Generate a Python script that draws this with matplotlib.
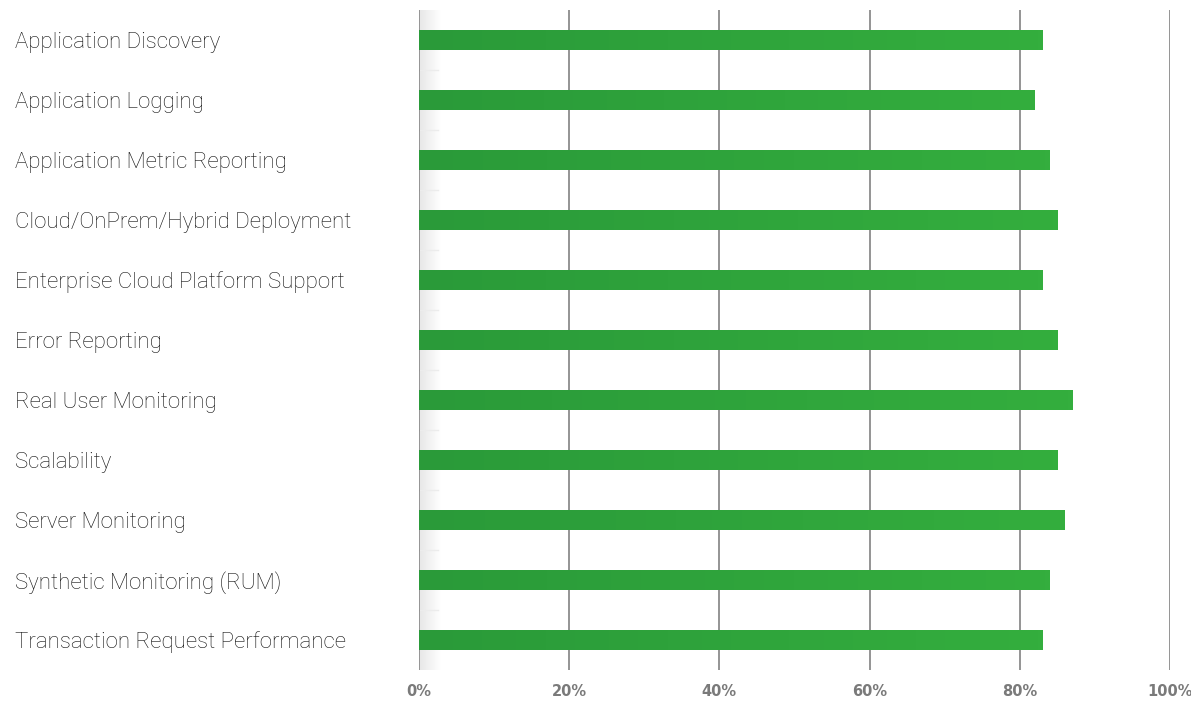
import numpy as np
import matplotlib.pyplot as plt
from matplotlib.colors import LinearSegmentedColormap

categories = ['Application Discovery', 'Application Logging', 'Application Metric Reporting',
              'Cloud/OnPrem/Hybrid Deployment', 'Enterprise Cloud Platform Support', 'Error Reporting',
              'Real User Monitoring', 'Scalability', 'Server Monitoring', 'Synthetic Monitoring (RUM)',
              'Transaction Request Performance']
values = [83, 82, 84, 85, 83, 85, 87, 85, 86, 84, 83]
ticks = [0, 20, 40, 60, 80, 100]
tick_labels = ['0%', '20%', '40%', '60%', '80%', '100%']

fig = plt.figure(figsize=(11.91, 7.02), dpi=100)
ax = fig.add_axes([419 / 1191, 1 - 670 / 702, 751 / 1191, 660 / 702])

ypos = np.arange(len(categories))

# gridlines
for t in ticks:
    ax.axvline(t, color='#777777', lw=1.1, zorder=1)

# faint shadow at the left edge
shade = LinearSegmentedColormap.from_list('shade', ['#e8e8e8', '#ffffff'])
ax.imshow(np.linspace(0, 1, 64).reshape(1, -1), cmap=shade, aspect='auto',
          extent=[0.1, 2.8, len(categories) - 0.5, -0.5], zorder=0.5)
for y in ypos[:-1]:
    ax.plot([0, 2.5], [y + 0.5, y + 0.5], color='#ececec', lw=1, zorder=0.6)

# bars with a left-to-right green gradient
green = LinearSegmentedColormap.from_list('green', ['#2a9a39', '#34ae3e'])
bars = ax.barh(ypos, values, height=0.32, color='#2fa43b', zorder=2)
for bar, v in zip(bars, values):
    im = ax.imshow(np.linspace(0, 1, 128).reshape(1, -1), cmap=green, aspect='auto',
                   extent=[0, v, bar.get_y() + bar.get_height(), bar.get_y()], zorder=3)
    im.set_clip_path(bar)

ax.set_xlim(0, 100)
ax.set_ylim(len(categories) - 0.5, -0.5)

ax.set_yticks(ypos)
ax.set_yticklabels(categories, fontsize=16, fontfamily='Roboto', fontweight='light',
                   color='#111111', ha='left', va='center_baseline')
ax.tick_params(axis='y', length=0, pad=404 * 72 / 100)

ax.set_xticks(ticks)
ax.set_xticklabels(tick_labels, fontsize=10.5, fontweight='bold', color='#7a7a7a')
ax.tick_params(axis='x', length=0, pad=10)

for s in ax.spines.values():
    s.set_visible(False)

fig.savefig('out.png', dpi=100)
